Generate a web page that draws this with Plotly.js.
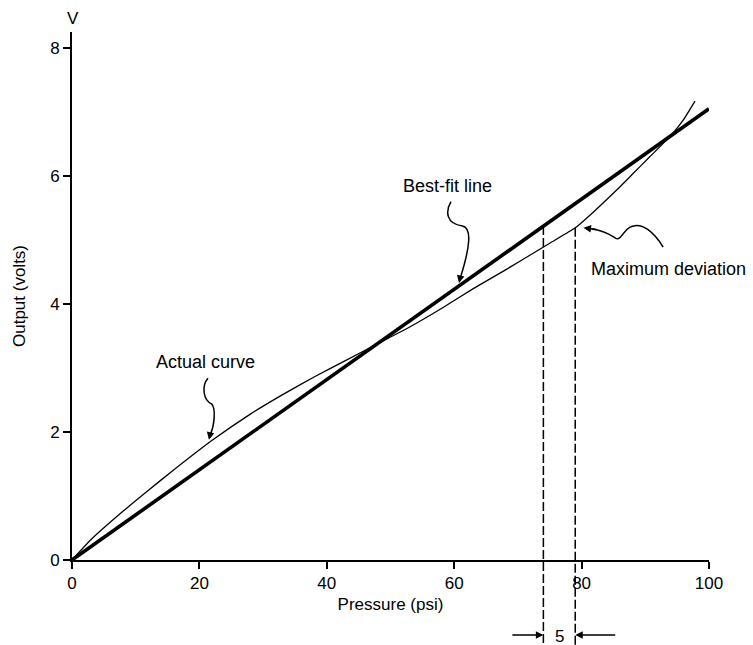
<!DOCTYPE html>
<html>
<head>
<meta charset="utf-8">
<script src="https://cdn.plot.ly/plotly-3.0.1.min.js"></script>
<style>html,body{margin:0;padding:0;background:#fff;}</style>
</head>
<body>
<div id="chart" style="width:753px;height:645px;"></div>
<script>
// Data
var actualPressure = [0, 3, 8, 12, 16, 22, 28, 33, 38, 43, 48, 53, 58, 63, 68, 72, 75, 79, 82, 85.5, 88, 90.7, 94, 96, 97.8];
var actualOutput   = [0, 0.32, 0.76, 1.09, 1.41, 1.87, 2.28, 2.58, 2.86, 3.12, 3.38, 3.64, 3.93, 4.24, 4.53, 4.77, 4.95, 5.19, 5.45, 5.78, 6.03, 6.30, 6.63, 6.88, 7.17];
var bestFitPressure = [0, 100];
var bestFitOutput   = [0, 7.05];
var xTicks = [0, 20, 40, 60, 80, 100];
var yTicks = [0, 2, 4, 6, 8];
// deviation markers: best-fit reaches 5.2 V at 74 psi, actual curve at 79 psi
var devPressure = [74, 79];
var devOutput   = [5.22, 5.19];
var devLabel = '5';

var yMax = 8.25;
var font = 'Liberation Sans, Arial, sans-serif';
var bottomPaper = -85 / 528;

var traces = [
  {x: actualPressure, y: actualOutput, type: 'scatter', mode: 'lines',
   line: {color: '#000', width: 1.3, shape: 'spline', smoothing: 0.5}, hoverinfo: 'skip'},
  {x: bestFitPressure, y: bestFitOutput, type: 'scatter', mode: 'lines',
   line: {color: '#000', width: 3.6}, hoverinfo: 'skip'}
];

var shapes = devPressure.map(function (p, i) {
  return {type: 'line', xref: 'x', yref: 'paper', x0: p, x1: p,
          y0: devOutput[i] / yMax, y1: bottomPaper,
          line: {color: '#000', width: 1.5, dash: '9px,3px'}};
});
shapes.push(
  {type: 'path', xref: 'x', yref: 'y', line: {color: '#000', width: 1.5},
   path: 'M 21.35,2.84 C 20.3,2.72 20.6,2.5 21.9,2.44 C 22.6,2.38 22.4,2.1 21.65,1.95'},
  {type: 'path', xref: 'x', yref: 'y', line: {color: '#000', width: 1.5},
   path: 'M 59.5,5.6 C 58.6,5.45 58.7,5.25 61.3,5.22 C 62.8,5.19 62.5,4.9 61.0,4.42'},
  {type: 'path', xref: 'x', yref: 'y', line: {color: '#000', width: 1.5},
   path: 'M 92.8,4.89 C 91.5,5.1 89.5,5.3 87.6,5.2 C 86.3,5.13 86.2,4.98 85.3,5.03 C 84.5,5.08 83.5,5.15 81.6,5.17'}
);

var txt = {family: font, size: 18, color: '#000'};
var annotations = [
  {xref: 'paper', yref: 'paper', x: 0.002, y: 1.0265, xanchor: 'center', yanchor: 'middle', text: 'V', showarrow: false, font: {family: font, size: 17, color: '#000'}},
  {xref: 'paper', yref: 'paper', x: 0.2088, y: 0.375, xanchor: 'center', yanchor: 'middle', text: 'Actual curve', showarrow: false, font: txt},
  {xref: 'paper', yref: 'paper', x: 0.5887, y: 0.708, xanchor: 'center', yanchor: 'middle', text: 'Best-fit line', showarrow: false, font: txt},
  {xref: 'paper', yref: 'paper', x: 0.8116, y: 0.551, xanchor: 'left', yanchor: 'middle', text: 'Maximum deviation', showarrow: false, font: txt},
  // arrow heads of the curly pointers
  {xref: 'x', yref: 'y', x: 21.5, y: 1.88, ax: 3, ay: -14, text: ' ', showarrow: true, arrowhead: 2, arrowsize: 1, arrowwidth: 1.5, arrowcolor: '#000'},
  {xref: 'x', yref: 'y', x: 60.75, y: 4.33, ax: 3, ay: -13, text: ' ', showarrow: true, arrowhead: 2, arrowsize: 1, arrowwidth: 1.5, arrowcolor: '#000'},
  {xref: 'x', yref: 'y', x: 80.3, y: 5.19, ax: 16, ay: 2, text: ' ', showarrow: true, arrowhead: 2, arrowsize: 1, arrowwidth: 1.5, arrowcolor: '#000'},
  // deviation dimension
  {xref: 'x', yref: 'paper', x: devPressure[0], y: -0.142, ax: -34, ay: 0, text: ' ', showarrow: true, arrowhead: 2, arrowsize: 1, arrowwidth: 1.5, arrowcolor: '#000'},
  {xref: 'x', yref: 'paper', x: devPressure[1], y: -0.142, ax: 43, ay: 0, text: ' ', showarrow: true, arrowhead: 2, arrowsize: 1, arrowwidth: 1.5, arrowcolor: '#000'},
  {xref: 'x', yref: 'paper', x: (devPressure[0] + devPressure[1]) / 2, y: -0.144, xanchor: 'center', yanchor: 'middle', text: devLabel, showarrow: false, font: {family: font, size: 17, color: '#000'}}
];

var axisCommon = {
  showgrid: false, zeroline: false, showline: true, linecolor: '#000', linewidth: 2,
  ticks: 'outside', ticklen: 7, tickwidth: 2, tickcolor: '#000',
  tickfont: {family: font, size: 17, color: '#000'}, fixedrange: true
};

var layout = {
  width: 753, height: 645,
  margin: {l: 72, r: 44, t: 32, b: 85},
  paper_bgcolor: '#fff', plot_bgcolor: '#fff',
  showlegend: false,
  xaxis: Object.assign({}, axisCommon, {
    range: [0, 100], tickvals: xTicks, ticktext: xTicks.map(String),
    title: {text: 'Pressure (psi)', font: {family: font, size: 17, color: '#000'}, standoff: 6}
  }),
  yaxis: Object.assign({}, axisCommon, {
    range: [0, yMax], tickvals: yTicks, ticktext: yTicks.map(String),
    title: {text: 'Output (volts)', font: {family: font, size: 17, color: '#000'}, standoff: 20}
  }),
  shapes: shapes,
  annotations: annotations
};

Plotly.newPlot('chart', traces, layout, {displayModeBar: false, staticPlot: true});
</script>
</body>
</html>
